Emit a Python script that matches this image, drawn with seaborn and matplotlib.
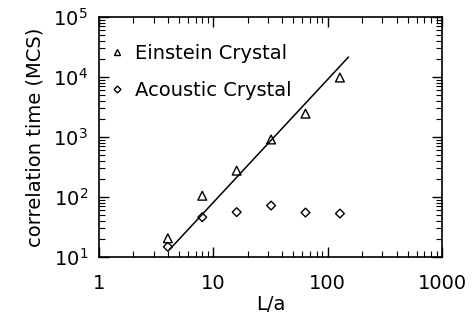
import numpy as np
import pandas as pd
import matplotlib
matplotlib.use("Agg")
import matplotlib.pyplot as plt
import matplotlib.ticker as ticker
import seaborn as sns

# system size L/a
sizes = [4, 8, 16, 32, 64, 128]
# correlation time (MCS)
einstein_tau = [20.5, 105, 275, 910, 2450, 9800]
acoustic_tau = [14.8, 46, 56, 72, 55, 53]
# fitted power law line (end points)
fit_x = [4.15, 152]
fit_y = [13.4, 21500]

sns.set_style("ticks")
plt.rcParams['font.family'] = ['DejaVu Sans']
plt.rcParams['mathtext.fontset'] = 'dejavusans'
plt.rcParams['text.color'] = 'black'
plt.rcParams['axes.labelcolor'] = 'black'
plt.rcParams['xtick.color'] = 'black'
plt.rcParams['ytick.color'] = 'black'
plt.rcParams['axes.edgecolor'] = 'black'

df = pd.DataFrame({
    "L": sizes * 2,
    "tau": einstein_tau + acoustic_tau,
    "kind": ["Einstein Crystal"] * len(sizes) + ["Acoustic Crystal"] * len(sizes),
})
fit = pd.DataFrame({"L": fit_x, "tau": fit_y})

fig = plt.figure(figsize=(4.74, 3.24), dpi=100)
ax = fig.add_axes([99 / 474, 1 - 257 / 324, (442 - 99) / 474, (257 - 17) / 324])

sns.lineplot(data=fit, x="L", y="tau", color="black", lw=1.1, ax=ax, legend=False)
sns.scatterplot(data=df, x="L", y="tau", style="kind", size="kind",
                markers={"Einstein Crystal": "^", "Acoustic Crystal": "D"},
                sizes={"Einstein Crystal": 40, "Acoustic Crystal": 20},
                facecolor="none", edgecolor="black", linewidth=1.0,
                ax=ax, legend=False)

ax.set_xscale("log")
ax.set_yscale("log")
ax.set_xlim(1, 1000)
ax.set_ylim(10, 1e5)

ax.xaxis.set_major_formatter(ticker.FuncFormatter(lambda v, p: "%g" % v))
ax.yaxis.set_major_formatter(ticker.LogFormatterMathtext())
ax.tick_params(which="both", direction="in", top=True, right=True)
ax.tick_params(which="major", length=7, width=1, labelsize=14, pad=8)
ax.tick_params(which="minor", length=4, width=0.8)
ax.tick_params(axis="x", pad=12)
for sp in ax.spines.values():
    sp.set_linewidth(1.2)

ax.set_xlabel("L/a", fontsize=14, labelpad=2)
ax.set_ylabel("correlation time (MCS)", fontsize=14, labelpad=6)

# legend in the IDL style: small marker then label
h1 = plt.Line2D([], [], ls="none", marker="^", ms=5, mfc="none", mec="black", mew=1.0)
h2 = plt.Line2D([], [], ls="none", marker="D", ms=3.5, mfc="none", mec="black", mew=1.0)
ax.legend([h1, h2], ["Einstein Crystal", "Acoustic Crystal"], loc="upper left",
          bbox_to_anchor=(-0.015, 0.96), frameon=False, fontsize=14,
          handlelength=0.6, handletextpad=0.6, labelspacing=0.9)

fig.savefig("out.png", dpi=100)
